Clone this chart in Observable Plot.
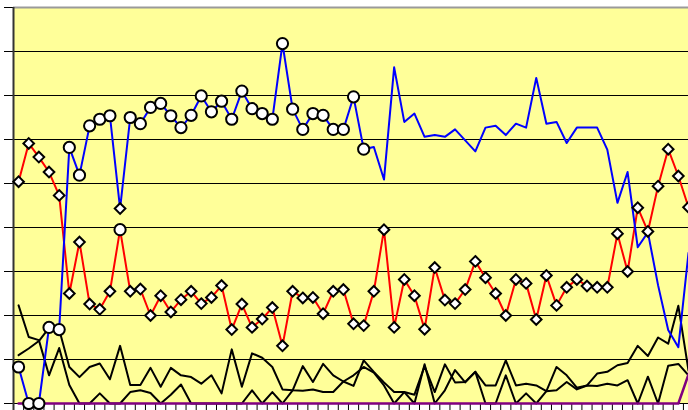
<!DOCTYPE html>
<html>
<head>
<meta charset="utf-8">
<script src="https://cdn.jsdelivr.net/npm/d3@7"></script>
<script src="https://cdn.jsdelivr.net/npm/@observablehq/plot@0.6"></script>
<style>
  html, body { margin: 0; padding: 0; background: #ffffff; }
  #chart svg { display: block; }
</style>
</head>
<body>
<div id="chart"></div>
<script>
// Category positions (one per period)
const periods = d3.range(67);
// Y axis tick values
const yTicks = [0, 1, 2, 3, 4, 5, 6, 7, 8, 9];

// Blue series (circle markers on first 35 points)
const blueValues = [0.83, 0, 0, 1.73, 1.68, 5.82, 5.19, 6.31, 6.46, 6.54,
  4.43, 6.50, 6.36, 6.73, 6.82, 6.54, 6.27, 6.55, 6.99, 6.63,
  6.87, 6.46, 7.10, 6.70, 6.59, 6.46, 8.18, 6.69, 6.23, 6.59,
  6.55, 6.23, 6.23, 6.97, 5.78, 5.83, 5.09, 7.64, 6.40, 6.59,
  6.06, 6.10, 6.06, 6.23, 5.98, 5.73, 6.27, 6.31, 6.10, 6.36,
  6.27, 7.40, 6.36, 6.40, 5.92, 6.27, 6.27, 6.27, 5.77, 4.56,
  5.26, 3.55, 3.89, 2.69, 1.67, 1.28, 3.42];

// Red series (diamond markers)
const redValues = [5.04, 5.91, 5.60, 5.26, 4.73, 2.50, 3.67, 2.26, 2.14, 2.55,
  3.95, 2.55, 2.60, 2.00, 2.45, 2.08, 2.36, 2.55, 2.27, 2.41,
  2.68, 1.68, 2.26, 1.73, 1.92, 2.18, 1.31, 2.55, 2.40, 2.41,
  2.04, 2.55, 2.59, 1.81, 1.77, 2.55, 3.95, 1.73, 2.82, 2.45,
  1.69, 3.09, 2.35, 2.27, 2.59, 3.23, 2.86, 2.50, 2.00, 2.82,
  2.73, 1.91, 2.91, 2.23, 2.64, 2.82, 2.67, 2.64, 2.64, 3.86,
  3.00, 4.45, 3.91, 4.94, 5.78, 5.17, 4.46];

// Circle marker series (first 35 periods) and diamond marker series
const circleValues = [0.83, 0, 0, 1.73, 1.68, 5.82, 5.19, 6.31, 6.46, 6.54,
  3.95, 6.50, 6.36, 6.73, 6.82, 6.54, 6.27, 6.55, 6.99, 6.63,
  6.87, 6.46, 7.10, 6.70, 6.59, 6.46, 8.18, 6.69, 6.23, 6.59,
  6.55, 6.23, 6.23, 6.97, 5.78];
const diamondValues = [5.04, 5.91, 5.60, 5.26, 4.73, 2.50, 3.67, 2.26, 2.14, 2.55,
  4.43, 2.55, 2.60, 2.00, 2.45, 2.08, 2.36, 2.55, 2.27, 2.41,
  2.68, 1.68, 2.26, 1.73, 1.92, 2.18, 1.31, 2.55, 2.40, 2.41,
  2.04, 2.55, 2.59, 1.81, 1.77, 2.55, 3.95, 1.73, 2.82, 2.45,
  1.69, 3.09, 2.35, 2.27, 2.59, 3.23, 2.86, 2.50, 2.00, 2.82,
  2.73, 1.91, 2.91, 2.23, 2.64, 2.82, 2.67, 2.64, 2.64, 3.86,
  3.00, 4.45, 3.91, 4.94, 5.78, 5.17, 4.46];

// Two black series
const blackA = [2.23, 1.51, 1.44, 0.64, 1.26, 0.42, 0, 0, 0.23, 0,
  0, 0.26, 0.30, 0.24, 0, 0.20, 0.43, 0, 0, 0,
  0, 0, 0, 0.30, 0, 0.26, 0, 0.30, 0.85, 0.49,
  0.90, 0.64, 0.50, 0.40, 0.98, 0.72, 0.48, 0.26, 0.26, 0,
  0.89, 0, 0.30, 0.76, 0.48, 0.72, 0.41, 0.41, 0.98, 0.41,
  0.45, 0.41, 0.28, 0.30, 0.49, 0.32, 0.41, 0.68, 0.72, 0.87,
  0.92, 1.31, 1.08, 1.50, 1.36, 2.22, 0.75];
const blackB = [1.10, 1.25, 1.42, 1.72, 1.68, 0.83, 0.60, 0.83, 0.91, 0.55,
  1.31, 0.42, 0.42, 0.81, 0.38, 0.81, 0.64, 0.60, 0.45, 0.64,
  0.23, 1.23, 0.38, 1.14, 1.04, 0.83, 0.32, 0.30, 0.29, 0.32,
  0.26, 0.26, 0.50, 0.64, 0.83, 0.70, 0.41, 0, 0.26, 0.20,
  0.85, 0.26, 0.89, 0.48, 0.49, 0.72, 0, 0, 0.64, 0,
  0.23, 0, 0.28, 0.83, 0.64, 0.36, 0.41, 0.40, 0.45, 0.41,
  0.53, 0, 0.61, 0, 0.86, 0.90, 0.64];

// Purple series
const purpleValues = [0, 0, 0, 0, 0, 0, 0, 0, 0, 0,
  0, 0, 0, 0, 0, 0, 0, 0, 0, 0,
  0, 0, 0, 0, 0, 0, 0, 0, 0, 0,
  0, 0, 0, 0, 0, 0, 0, 0, 0, 0,
  0, 0, 0, 0, 0, 0, 0, 0, 0, 0,
  0, 0, 0, 0, 0, 0, 0, 0, 0, 0,
  0, 0, 0, 0, 0, 0, 0.66];

const rows = vals => vals.map((v, i) => ({i: periods[i], v}));
const catEdges = [...periods.map(p => p - 0.5), periods[periods.length - 1] + 0.5];
const xMin = periods[0] - 0.5;
const xMax = periods[periods.length - 1];
const pxX = (xMax - xMin) / (688 - 13);
const pxY = 9 / 396;

const chart = Plot.plot({
  width: 688,
  height: 410,
  marginLeft: 13,
  marginRight: 0,
  marginTop: 7,
  marginBottom: 7,
  x: {domain: [xMin, xMax], axis: null},
  y: {domain: [0, 9], axis: null},
  style: {background: "#ffffff", overflow: "visible"},
  marks: [
    Plot.frame({fill: "#FFFF99", stroke: null}),
    Plot.ruleY(yTicks.filter(t => t > 0 && t < 9), {stroke: "#000000", strokeWidth: 1}),
    Plot.ruleY([9], {stroke: "#9a9a9a", strokeWidth: 2}),
    Plot.ruleY(yTicks, {x1: xMin - 9 * pxX, x2: xMin, stroke: "#000000", strokeWidth: 1}),
    Plot.ruleX(catEdges, {y1: 0, y2: -7 * pxY, stroke: "#000000", strokeWidth: 1}),
    Plot.ruleY([0], {stroke: "#000000", strokeWidth: 1}),
    Plot.ruleX([xMin], {y1: -7 * pxY, y2: 9, stroke: "#333333", strokeWidth: 2}),
    Plot.line(rows(blackB), {x: "i", y: "v", stroke: "#000000", strokeWidth: 2}),
    Plot.line(rows(blackA), {x: "i", y: "v", stroke: "#000000", strokeWidth: 2}),
    Plot.line(rows(purpleValues), {x: "i", y: "v", stroke: "#800080", strokeWidth: 2.5}),
    Plot.line(rows(redValues), {x: "i", y: "v", stroke: "#FF0000", strokeWidth: 2}),
    Plot.line(rows(blueValues), {x: "i", y: "v", stroke: "#0000FF", strokeWidth: 2}),
    Plot.dot(rows(diamondValues), {x: "i", y: "v", symbol: "diamond2", r: 4.8, fill: "#ffffff", stroke: "#000000", strokeWidth: 2}),
    Plot.dot(rows(circleValues), {x: "i", y: "v", symbol: "circle", r: 5.6, fill: "#ffffff", stroke: "#000000", strokeWidth: 2})
  ]
});
document.getElementById("chart").appendChild(chart);
</script>
</body>
</html>
